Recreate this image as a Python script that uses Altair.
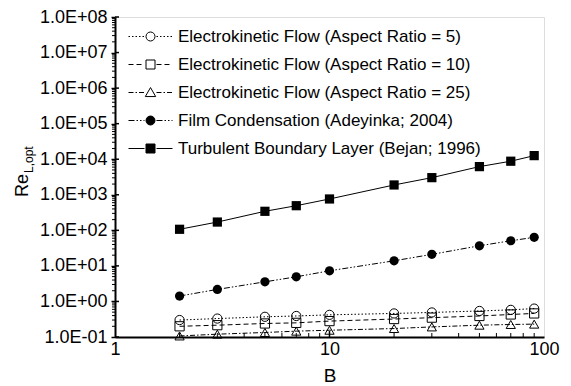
import altair as alt
import pandas as pd

# ---- data ----
B = [2, 3, 5, 7, 10, 20, 30, 50, 70, 90]
series_names = [
    "Electrokinetic Flow (Aspect Ratio = 5)",
    "Electrokinetic Flow (Aspect Ratio = 10)",
    "Electrokinetic Flow (Aspect Ratio = 25)",
    "Film Condensation (Adeyinka; 2004)",
    "Turbulent Boundary Layer (Bejan; 1996)",
]
ek5 = [0.30, 0.33, 0.37, 0.39, 0.42, 0.46, 0.49, 0.54, 0.58, 0.63]
ek10 = [0.20, 0.215, 0.24, 0.25, 0.28, 0.32, 0.35, 0.39, 0.43, 0.46]
ek25 = [0.107, 0.12, 0.134, 0.146, 0.155, 0.173, 0.192, 0.215, 0.225, 0.23]
film = [1.42, 2.18, 3.56, 4.93, 7.28, 13.9, 21.1, 36.8, 50.9, 63.5]
turb = [107, 171, 343, 493, 762, 1888, 3033, 6194, 8790, 12620]
y_major = [0.1, 1, 10, 1e2, 1e3, 1e4, 1e5, 1e6, 1e7, 1e8]
x_major = [1, 10, 100]

all_vals = [ek5, ek10, ek25, film, turb]
rows = []
for name, vals in zip(series_names, all_vals):
    for b, v in zip(B, vals):
        rows.append({"series": name, "B": b, "Re": v})
df = pd.DataFrame(rows)

# styles
dashes = [[1.5, 2], [5, 3], [5, 2, 1.5, 2], [6, 2, 1.5, 2, 1.5, 2], [1000, 0]]
shapes = ["circle", "square", "triangle-up", "circle", "square"]
filled = [False, False, False, True, True]

W, H = 429, 320
FONT = "Liberation Sans"
xs = alt.Scale(type="log", domain=[1, 100])
ys = alt.Scale(type="log", domain=[0.1, 1e8])

# legend symbol paths (line + marker), unit = marker radius
R = 4.5
HALF = 22.0
marker_paths = {
    "circle": "M1,0A1,1,0,1,1,-1,0A1,1,0,1,1,1,0Z",
    "square": "M-1,-1L1,-1L1,1L-1,1Z",
    "triangle-up": "M0,-1.1L1.15,0.9L-1.15,0.9Z",
}


def seg_path(pattern, x0, x1):
    out = []
    x = x0
    i = 0
    while x < x1 - 1e-6:
        ln = pattern[i % len(pattern)]
        if i % 2 == 0:
            e = min(x + ln, x1)
            out.append("M%.3f,0L%.3f,0" % (x / R, e / R))
        x += ln
        i += 1
    return "".join(out)


legend_paths = []
for d, s in zip(dashes, shapes):
    p = seg_path(d, -HALF, -R - 1.5) + seg_path(d, R + 1.5, HALF) + marker_paths[s]
    legend_paths.append(p)

base = alt.Chart(df)
layers = []
for i, name in enumerate(series_names):
    sub = base.transform_filter(alt.datum.series == name)
    line = sub.mark_line(color="black", strokeWidth=1, strokeDash=dashes[i], clip=False).encode(
        x=alt.X("B:Q", scale=xs),
        y=alt.Y("Re:Q", scale=ys),
        order="B:Q",
    )
    if filled[i]:
        pts = sub.mark_point(shape=shapes[i], size=85, filled=True, color="black", opacity=1)
    else:
        pts = sub.mark_point(shape=shapes[i], size=85, filled=False, color="black",
                             strokeWidth=1, opacity=1)
    pts = pts.encode(x=alt.X("B:Q", scale=xs), y=alt.Y("Re:Q", scale=ys))
    layers += [line, pts]

# axes carrier
axis_layer = alt.Chart(pd.DataFrame({"B": [1, 100], "Re": [0.1, 1e8]})).mark_point(opacity=0).encode(
    x=alt.X("B:Q", scale=xs, axis=alt.Axis(
        values=x_major, format="d", ticks=False, grid=False, domainColor="black", domainWidth=2,
        labelFontSize=18, labelColor="black", labelPadding=3, labelFont=FONT,
        title="B", titleFontSize=19, titleFont=FONT, titleFontWeight="normal", titleColor="black",
        titlePadding=8, labelFlush=False)),
    y=alt.Y("Re:Q", scale=ys, axis=alt.Axis(
        values=y_major, ticks=True, tickSize=4, tickWidth=1.5, tickColor="black", grid=False,
        domainColor="black", domainWidth=2, labelFontSize=18, labelColor="black", labelFont=FONT,
        labelPadding=4,
        labelExpr="'1.0E' + (round(log(datum.value)/LN10) < 0 ? '-' : '+') + (abs(round(log(datum.value)/LN10)) < 10 ? '0' : '') + abs(round(log(datum.value)/LN10))",
        title=None)),
)

# minor ticks
y_minor = [k * 10 ** d for d in range(-1, 8) for k in range(2, 10)]
x_minor = [k * 10 ** d for d in range(0, 2) for k in range(2, 10)]
ymin_df = pd.DataFrame({"Re": y_minor})
ymaj_df = pd.DataFrame({"Re": y_major})
xmin_df = pd.DataFrame({"B": x_minor})
xmaj_df = pd.DataFrame({"B": [10]})

ymin_rule = alt.Chart(ymin_df).mark_rule(color="black", strokeWidth=1).encode(
    y=alt.Y("Re:Q", scale=ys), x=alt.value(0), x2=alt.value(-3))
ymaj_rule = alt.Chart(ymaj_df).mark_rule(color="black", strokeWidth=1.5).encode(
    y=alt.Y("Re:Q", scale=ys), x=alt.value(0), x2=alt.value(4))
xmin_rule = alt.Chart(xmin_df).mark_rule(color="black", strokeWidth=1).encode(
    x=alt.X("B:Q", scale=xs), y=alt.value(H), y2=alt.value(H - 4))
xmaj_rule = alt.Chart(xmaj_df).mark_rule(color="black", strokeWidth=1.5).encode(
    x=alt.X("B:Q", scale=xs), y=alt.value(H), y2=alt.value(H - 6))

# legend-only layer
leg = alt.Legend(orient="none", legendX=27, legendY=11, title=None, labelFontSize=17,
                 labelFont=FONT, labelColor="black",
                 symbolStrokeWidth=1, symbolSize=R * R * 4, labelOffset=19, rowPadding=10,
                 padding=0, symbolOpacity=1, labelLimit=0)
legend_layer = alt.Chart(pd.DataFrame({"series": series_names, "B": [1] * 5, "Re": [1] * 5})).transform_filter(
    "false").mark_point(filled=False, strokeWidth=1, opacity=1).encode(
    x=alt.X("B:Q", scale=xs),
    y=alt.Y("Re:Q", scale=ys),
    shape=alt.Shape("series:N", scale=alt.Scale(domain=series_names, range=legend_paths), legend=leg),
    fill=alt.Fill("series:N", scale=alt.Scale(domain=series_names,
                                              range=["white", "white", "white", "black", "black"]),
                  legend=leg),
    stroke=alt.Stroke("series:N", scale=alt.Scale(domain=series_names, range=["black"] * 5),
                      legend=leg),
)

# y title with subscript
t_df1 = pd.DataFrame({"t": ["Re"]})
t_df2 = pd.DataFrame({"t": ["L,opt"]})
ytitle1 = alt.Chart(t_df1).mark_text(angle=270, align="left", baseline="alphabetic", fontSize=18,
                                     font=FONT, color="black").encode(
    text="t:N", x=alt.value(-87), y=alt.value(180))
ytitle2 = alt.Chart(t_df2).mark_text(angle=270, align="left", baseline="alphabetic", fontSize=12,
                                     font=FONT, color="black").encode(
    text="t:N", x=alt.value(-82), y=alt.value(156))

chart = alt.layer(axis_layer, *layers, ymin_rule, ymaj_rule, xmin_rule, xmaj_rule,
                  legend_layer, ytitle1, ytitle2).properties(
    width=W, height=H,
    autosize=alt.AutoSizeParams(type="none"),
    padding={"left": 107, "top": 9, "right": 19, "bottom": 48},
).configure_view(stroke="#555555", strokeWidth=1.5).configure(font=FONT)

chart.save("out.html", embed_options={"renderer": "svg", "actions": False})
